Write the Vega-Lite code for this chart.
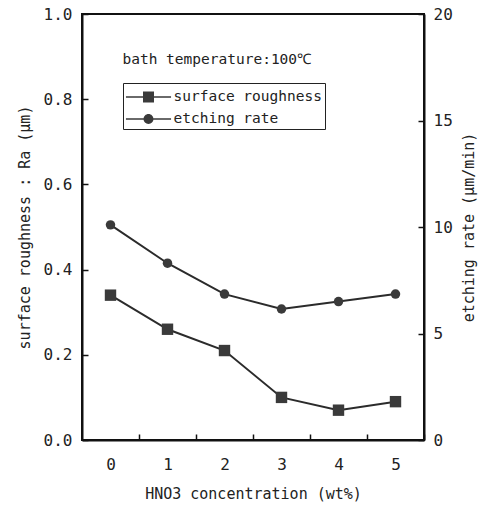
{
  "$schema": "https://vega.github.io/schema/vega-lite/v6.json",
  "width": 342,
  "height": 426,
  "autosize": "none",
  "padding": {"left": 82, "top": 14, "right": 64, "bottom": 67},
  "background": "white",
  "config": {
    "font": "DejaVu Sans Mono",
    "view": {"stroke": "#111", "strokeWidth": 2},
    "axis": {
      "domainColor": "#111",
      "domainWidth": 2,
      "tickColor": "#111",
      "tickWidth": 1.5,
      "grid": false,
      "labelFont": "DejaVu Sans Mono",
      "labelFontSize": 16,
      "labelColor": "#222",
      "titleFont": "DejaVu Sans Mono",
      "titleFontSize": 15,
      "titleFontWeight": "normal",
      "titleColor": "#222"
    },
    "legend": {
      "symbolSize": 484,
      "symbolOffset": 11.5,
      "labelOffset": 14,
      "rowPadding": 4,
      "padding": 3,
      "strokeColor": "#222",
      "symbolStrokeWidth": 0,
      "symbolFillColor": "#3a3a3a",
      "symbolOpacity": 1,
      "labelFont": "DejaVu Sans Mono",
      "labelFontSize": 14.5,
      "labelColor": "#222"
    }
  },
  "data": {
    "values": [
      {"c": 0, "Ra": 0.34, "rate": 10.1},
      {"c": 1, "Ra": 0.26, "rate": 8.3},
      {"c": 2, "Ra": 0.21, "rate": 6.85},
      {"c": 3, "Ra": 0.10, "rate": 6.15},
      {"c": 4, "Ra": 0.07, "rate": 6.5},
      {"c": 5, "Ra": 0.09, "rate": 6.85}
    ]
  },
  "encoding": {
    "x": {
      "field": "c",
      "type": "quantitative",
      "scale": {"domain": [-0.5, 5.5], "nice": false, "zero": false},
      "axis": {
        "title": "HNO3 concentration (wt%)",
        "values": [0, 1, 2, 3, 4, 5],
        "tickOffset": 28.5,
        "labelOffset": -28.5,
        "tickSize": -6,
        "labelPadding": 22,
        "titlePadding": 14,
        "labelFlush": false
      }
    }
  },
  "layer": [
    {
      "encoding": {
        "y": {
          "field": "Ra",
          "type": "quantitative",
          "scale": {"domain": [0, 1], "nice": false},
          "axis": {
            "orient": "left",
            "title": "surface roughness : Ra (μm)",
            "values": [0, 0.2, 0.4, 0.6, 0.8, 1.0],
            "format": ".1f",
            "tickSize": -6,
            "labelPadding": 16,
            "titlePadding": 11
          }
        }
      },
      "layer": [
        {"mark": {"type": "line", "color": "#2b2b2b", "strokeWidth": 2}},
        {"mark": {"type": "point", "filled": true, "shape": "square", "size": 130, "color": "#3a3a3a", "opacity": 1}},
        {
          "mark": {"type": "point", "filled": true, "size": 130, "color": "#3a3a3a", "opacity": 0},
          "encoding": {
            "shape": {
              "datum": "surface roughness",
              "type": "nominal",
              "scale": {
                "domain": ["surface roughness", "etching rate"],
                "range": [
                  "M-2.05,-0.07H-0.45V0.07H-2.05ZM0.45,-0.07H2.05V0.07H0.45ZM-0.5,-0.5H0.5V0.5H-0.5Z",
                  "M-2.05,-0.07H-0.42V0.07H-2.05ZM0.42,-0.07H2.05V0.07H0.42ZM-0.45,0A0.45,0.45 0 1,1 0.45,0A0.45,0.45 0 1,1 -0.45,0Z"
                ]
              },
              "legend": {"title": null, "orient": "none", "legendX": 41, "legendY": 69}
            }
          }
        }
      ]
    },
    {
      "encoding": {
        "y": {
          "field": "rate",
          "type": "quantitative",
          "scale": {"domain": [0, 20], "nice": false},
          "axis": {
            "orient": "right",
            "title": "etching rate (μm/min)",
            "values": [0, 5, 10, 15, 20],
            "tickSize": -6,
            "labelPadding": 15,
            "titleAngle": -90,
            "titlePadding": 24
          }
        }
      },
      "layer": [
        {"mark": {"type": "line", "color": "#2b2b2b", "strokeWidth": 2}},
        {"mark": {"type": "point", "filled": true, "shape": "circle", "size": 90, "color": "#3a3a3a", "opacity": 1}},
        {
          "mark": {"type": "point", "filled": true, "size": 90, "color": "#3a3a3a", "opacity": 0},
          "encoding": {
            "shape": {
              "datum": "etching rate",
              "type": "nominal",
              "legend": {"title": null, "orient": "none", "legendX": 41, "legendY": 69}
            }
          }
        }
      ]
    },
    {
      "transform": [{"filter": "datum.c === 0"}],
      "mark": {"type": "text", "align": "left", "baseline": "middle", "font": "DejaVu Sans Mono", "fontSize": 14.5, "color": "#222", "text": "bath temperature:100℃"},
      "encoding": {
        "x": {"datum": 0.21, "type": "quantitative"},
        "y": {"datum": 0.892, "type": "quantitative", "scale": {"domain": [0, 1], "nice": false}, "axis": null}
      }
    }
  ],
  "resolve": {"scale": {"y": "independent"}}
}
